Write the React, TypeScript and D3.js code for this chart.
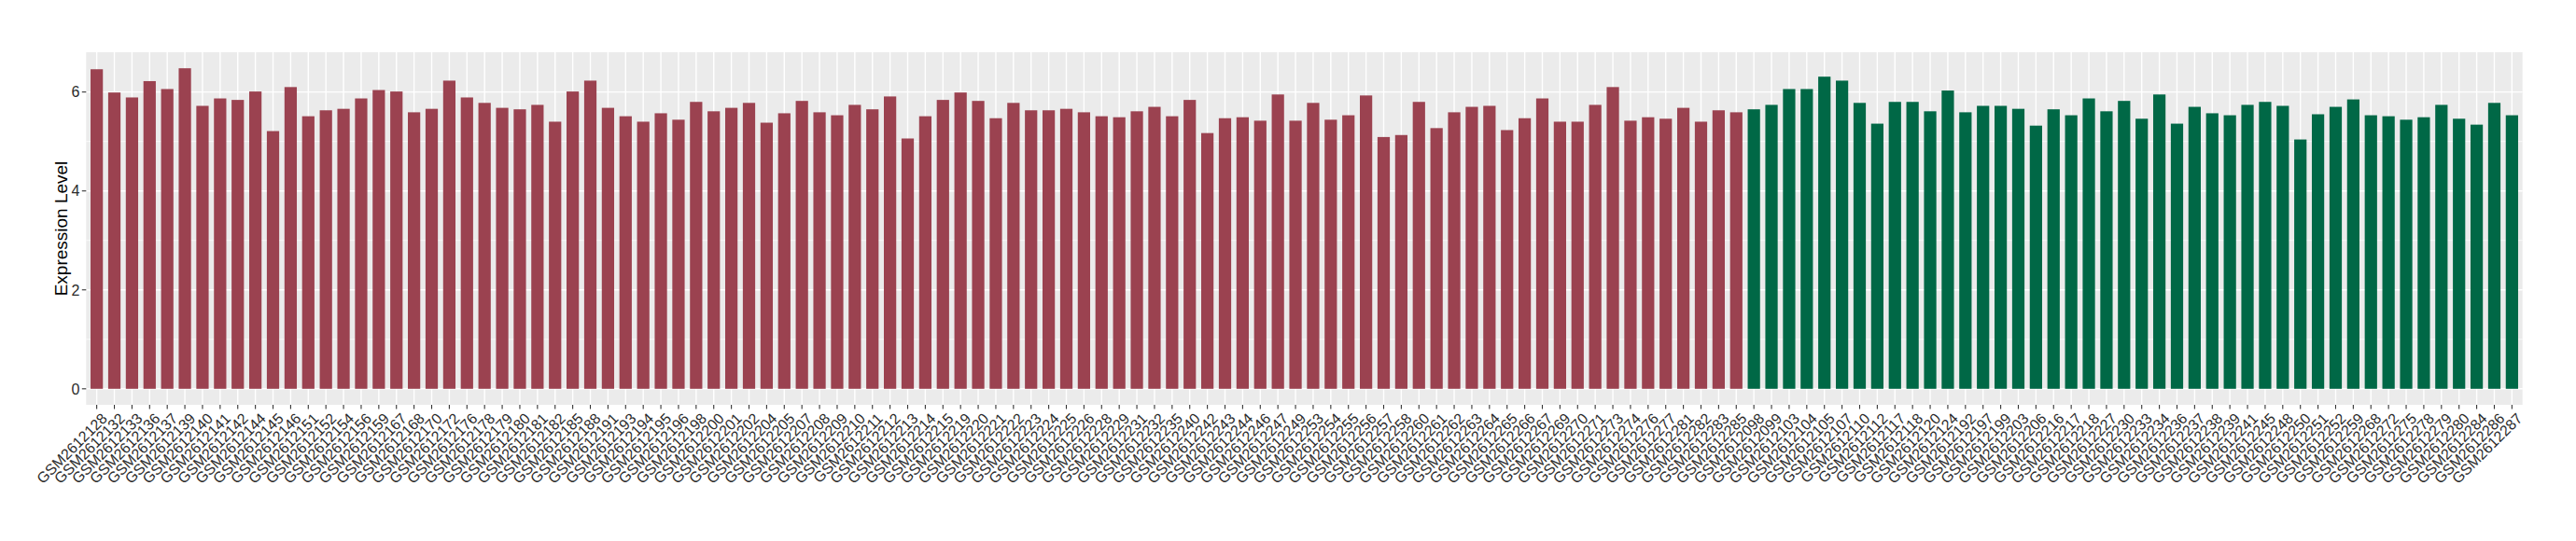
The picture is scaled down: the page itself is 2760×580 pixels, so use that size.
import React from "react";
import * as d3 from "d3";

const groupASamples = [
  "GSM2612128","GSM2612132","GSM2612133","GSM2612136","GSM2612137","GSM2612139","GSM2612140","GSM2612141","GSM2612142","GSM2612144",
  "GSM2612145","GSM2612146","GSM2612151","GSM2612152","GSM2612154","GSM2612156","GSM2612159","GSM2612167","GSM2612168","GSM2612170",
  "GSM2612172","GSM2612176","GSM2612178","GSM2612179","GSM2612180","GSM2612181","GSM2612182","GSM2612185","GSM2612188","GSM2612191",
  "GSM2612193","GSM2612194","GSM2612195","GSM2612196","GSM2612198","GSM2612200","GSM2612201","GSM2612202","GSM2612204","GSM2612205",
  "GSM2612207","GSM2612208","GSM2612209","GSM2612210","GSM2612211","GSM2612212","GSM2612213","GSM2612214","GSM2612215","GSM2612219",
  "GSM2612220","GSM2612221","GSM2612222","GSM2612223","GSM2612224","GSM2612225","GSM2612226","GSM2612228","GSM2612229","GSM2612231",
  "GSM2612232","GSM2612235","GSM2612240","GSM2612242","GSM2612243","GSM2612244","GSM2612246","GSM2612247","GSM2612249","GSM2612253",
  "GSM2612254","GSM2612255","GSM2612256","GSM2612257","GSM2612258","GSM2612260","GSM2612261","GSM2612262","GSM2612263","GSM2612264",
  "GSM2612265","GSM2612266","GSM2612267","GSM2612269","GSM2612270","GSM2612271","GSM2612273","GSM2612274","GSM2612276","GSM2612277",
  "GSM2612281","GSM2612282","GSM2612283","GSM2612285"
];
const groupAValues = [
  6.46,5.99,5.89,6.22,6.06,6.48,5.72,5.87,5.84,6.01,
  5.21,6.10,5.51,5.63,5.66,5.87,6.04,6.01,5.59,5.66,
  6.23,5.89,5.78,5.68,5.65,5.74,5.40,6.01,6.23,5.68,
  5.51,5.40,5.57,5.44,5.80,5.61,5.68,5.78,5.38,5.57,
  5.82,5.59,5.53,5.74,5.65,5.91,5.06,5.51,5.84,5.99,
  5.82,5.47,5.78,5.63,5.63,5.66,5.59,5.51,5.49,5.61,
  5.70,5.51,5.84,5.17,5.47,5.49,5.42,5.95,5.42,5.78,
  5.44,5.53,5.93,5.09,5.13,5.80,5.27,5.59,5.70,5.72,
  5.23,5.47,5.87,5.40,5.40,5.74,6.10,5.42,5.49,5.46,
  5.68,5.40,5.63,5.59
];
const groupBSamples = [
  "GSM2612098","GSM2612099","GSM2612103","GSM2612104","GSM2612105","GSM2612107","GSM2612110","GSM2612112","GSM2612117","GSM2612118",
  "GSM2612120","GSM2612124","GSM2612192","GSM2612197","GSM2612199","GSM2612203","GSM2612206","GSM2612216","GSM2612217","GSM2612218",
  "GSM2612227","GSM2612230","GSM2612233","GSM2612234","GSM2612236","GSM2612237","GSM2612238","GSM2612239","GSM2612241","GSM2612245",
  "GSM2612248","GSM2612250","GSM2612251","GSM2612252","GSM2612259","GSM2612268","GSM2612272","GSM2612275","GSM2612278","GSM2612279",
  "GSM2612280","GSM2612284","GSM2612286","GSM2612287"
];
const groupBValues = [
  5.65,5.74,6.06,6.06,6.31,6.23,5.78,5.36,5.80,5.80,
  5.61,6.03,5.59,5.72,5.72,5.66,5.32,5.65,5.53,5.87,
  5.61,5.82,5.46,5.95,5.36,5.70,5.57,5.53,5.74,5.80,
  5.72,5.04,5.55,5.70,5.85,5.53,5.51,5.44,5.49,5.74,
  5.46,5.34,5.78,5.53
];
const yTicks = [0, 2, 4, 6];
const yMinorTicks = [1, 3, 5];
const yTitle = "Expression Level";
const colorA = "#9B4250";
const colorB = "#006846";

export default function App() {
  const W = 2760, H = 580;
  const left = 92.3, right = 2702.7, top = 56, bottom = 434;
  const rows = [
    ...groupASamples.map((s, i) => ({ s, v: groupAValues[i], c: colorA })),
    ...groupBSamples.map((s, i) => ({ s, v: groupBValues[i], c: colorB })),
  ];
  const x = d3.scaleBand<string>().domain(rows.map(r => r.s)).range([left, right]).paddingInner(0.3).paddingOuter(0.25);
  const maxV = d3.max(rows, r => r.v) as number;
  const y = d3.scaleLinear().domain([-0.05 * maxV, 1.05 * maxV]).range([bottom, top]);
  const bw = x.bandwidth();
  const cx = (s: string) => (x(s) as number) + bw / 2;
  const font = "'Liberation Sans', Arial, Helvetica, sans-serif";
  const textCol = "#2B2B2B";
  return (
    <svg width={W} height={H} style={{ position: "absolute", left: 0, top: 0, background: "#fff" }} fontFamily={font}>
      <rect x={0} y={0} width={W} height={H} fill="#fff" />
      <rect x={left} y={top} width={right - left} height={bottom - top} fill="#EBEBEB" />
      {yMinorTicks.map(t => (
        <line key={"mn" + t} x1={left} x2={right} y1={y(t)} y2={y(t)} stroke="#fff" strokeWidth={0.7} />
      ))}
      {yTicks.map(t => (
        <line key={"mj" + t} x1={left} x2={right} y1={y(t)} y2={y(t)} stroke="#fff" strokeWidth={1.4} />
      ))}
      {rows.map(r => (
        <line key={"vx" + r.s} x1={cx(r.s)} x2={cx(r.s)} y1={top} y2={bottom} stroke="#fff" strokeWidth={1.4} />
      ))}
      {rows.map(r => (
        <rect key={"b" + r.s} x={x(r.s)} width={bw} y={y(r.v)} height={y(0) - y(r.v)} fill={r.c} />
      ))}
      {yTicks.map(t => (
        <g key={"yt" + t}>
          <line x1={left - 4.5} x2={left} y1={y(t)} y2={y(t)} stroke="#333" strokeWidth={1.1} />
          <text x={left - 7} y={y(t)} dy="0.36em" textAnchor="end" fontSize={16} fill={textCol}>{t}</text>
        </g>
      ))}
      {rows.map(r => (
        <g key={"xt" + r.s}>
          <line x1={cx(r.s)} x2={cx(r.s)} y1={bottom} y2={bottom + 4.5} stroke="#333" strokeWidth={1.1} />
          <text transform={`translate(${cx(r.s) + 4},${bottom + 7.5}) rotate(-45)`} dy="0.72em" textAnchor="end" fontSize={16} fill={textCol}>{r.s}</text>
        </g>
      ))}
      <text transform={`translate(65,${(top + bottom) / 2}) rotate(-90)`} dy="0.35em" textAnchor="middle" fontSize={19} fill="#000">{yTitle}</text>
    </svg>
  );
}
